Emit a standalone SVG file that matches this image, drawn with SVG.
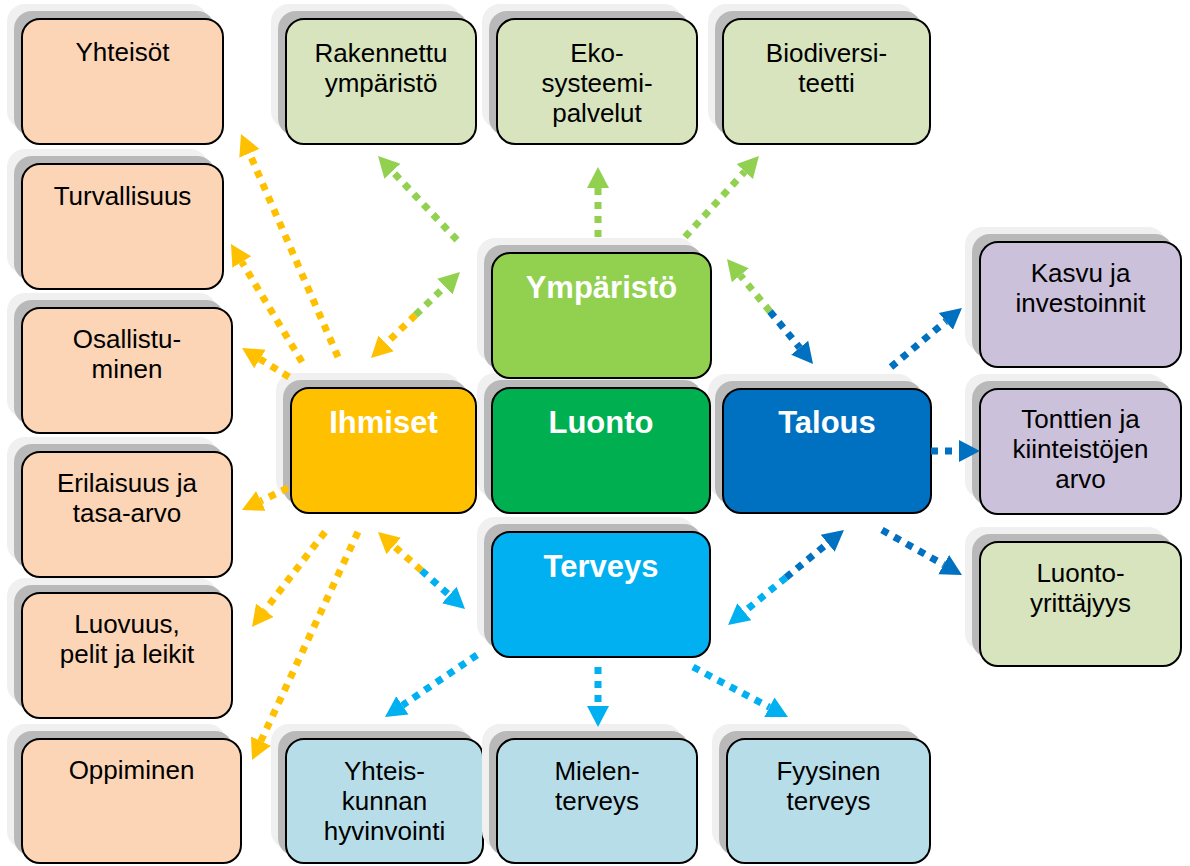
<svg xmlns="http://www.w3.org/2000/svg" width="1190" height="866" viewBox="0 0 1190 866">
  <defs>
    <style>
      .sh1 { fill: #f0f0f0; }
      .sh2 { fill: #b9b9b9; }
      .box { stroke: #000; stroke-width: 2; }
      .peach .box { fill: #fbd5b5; }
      .sage .box { fill: #d7e4bd; }
      .lilac .box { fill: #ccc1da; }
      .sky .box { fill: #b7dee8; }
      text { font-family: "Liberation Sans", Arial, sans-serif; text-anchor: middle; }
      .leaf text { font-size: 26px; fill: #000; }
      .hub text { font-size: 31px; font-weight: bold; fill: #fff; }
      .link { fill: none; stroke-width: 7; stroke-dasharray: 7 7; }
      .y { stroke: #ffc000; }
      .g { stroke: #92d050; }
      .b { stroke: #0070c0; }
      .l { stroke: #00b0f0; }
    </style>
    <marker id="hY" markerUnits="userSpaceOnUse" markerWidth="22" markerHeight="24" viewBox="0 0 22 24" refX="0" refY="12" orient="auto">
      <path d="M0,1 L21,12 L0,23 Z" fill="#ffc000"/>
    </marker>
    <marker id="hG" markerUnits="userSpaceOnUse" markerWidth="22" markerHeight="24" viewBox="0 0 22 24" refX="0" refY="12" orient="auto">
      <path d="M0,1 L21,12 L0,23 Z" fill="#92d050"/>
    </marker>
    <marker id="hB" markerUnits="userSpaceOnUse" markerWidth="22" markerHeight="24" viewBox="0 0 22 24" refX="0" refY="12" orient="auto">
      <path d="M0,1 L21,12 L0,23 Z" fill="#0070c0"/>
    </marker>
    <marker id="hL" markerUnits="userSpaceOnUse" markerWidth="22" markerHeight="24" viewBox="0 0 22 24" refX="0" refY="12" orient="auto">
      <path d="M0,1 L21,12 L0,23 Z" fill="#00b0f0"/>
    </marker>
  </defs>

  <rect width="1190" height="866" fill="#fff"/>

  <!-- left column: people themes -->
  <g id="yhteisot" class="leaf peach">
    <rect class="sh1" x="7" y="4" width="201" height="125" rx="18"/>
    <rect class="sh2" x="14" y="11" width="201" height="125" rx="18"/>
    <rect class="box" x="22" y="19" width="201" height="125" rx="18"/>
    <text x="122.5" y="61">Yhteisöt</text>
  </g>
  <g id="turvallisuus" class="leaf peach">
    <rect class="sh1" x="7" y="149" width="201" height="125" rx="18"/>
    <rect class="sh2" x="14" y="156" width="201" height="125" rx="18"/>
    <rect class="box" x="22" y="164" width="201" height="125" rx="18"/>
    <text x="122.5" y="205">Turvallisuus</text>
  </g>
  <g id="osallistuminen" class="leaf peach">
    <rect class="sh1" x="7" y="293" width="210" height="125" rx="18"/>
    <rect class="sh2" x="14" y="300" width="210" height="125" rx="18"/>
    <rect class="box" x="22" y="308" width="210" height="125" rx="18"/>
    <text x="127" y="348">Osallistu-</text>
    <text x="127" y="378">minen</text>
  </g>
  <g id="erilaisuus" class="leaf peach">
    <rect class="sh1" x="7" y="437" width="210" height="125" rx="18"/>
    <rect class="sh2" x="14" y="444" width="210" height="125" rx="18"/>
    <rect class="box" x="22" y="452" width="210" height="125" rx="18"/>
    <text x="127" y="492">Erilaisuus ja</text>
    <text x="127" y="522">tasa-arvo</text>
  </g>
  <g id="luovuus" class="leaf peach">
    <rect class="sh1" x="7" y="578" width="210" height="125" rx="18"/>
    <rect class="sh2" x="14" y="585" width="210" height="125" rx="18"/>
    <rect class="box" x="22" y="593" width="210" height="125" rx="18"/>
    <text x="127" y="633">Luovuus,</text>
    <text x="127" y="663">pelit ja leikit</text>
  </g>
  <g id="oppiminen" class="leaf peach">
    <rect class="sh1" x="7" y="724" width="219" height="125" rx="18"/>
    <rect class="sh2" x="14" y="731" width="219" height="125" rx="18"/>
    <rect class="box" x="22" y="739" width="219" height="124" rx="18"/>
    <text x="131.5" y="779">Oppiminen</text>
  </g>

  <!-- top row: environment themes -->
  <g id="rakennettu" class="leaf sage">
    <rect class="sh1" x="271" y="4" width="190" height="125" rx="18"/>
    <rect class="sh2" x="278" y="11" width="190" height="125" rx="18"/>
    <rect class="box" x="286" y="19" width="190" height="125" rx="18"/>
    <text x="381" y="62">Rakennettu</text>
    <text x="381" y="92">ympäristö</text>
  </g>
  <g id="ekosysteemi" class="leaf sage">
    <rect class="sh1" x="482" y="4" width="200" height="125" rx="18"/>
    <rect class="sh2" x="489" y="11" width="200" height="125" rx="18"/>
    <rect class="box" x="497" y="19" width="200" height="125" rx="18"/>
    <text x="597" y="62">Eko-</text>
    <text x="597" y="92">systeemi-</text>
    <text x="597" y="122">palvelut</text>
  </g>
  <g id="biodiversiteetti" class="leaf sage">
    <rect class="sh1" x="708" y="4" width="207" height="125" rx="18"/>
    <rect class="sh2" x="715" y="11" width="207" height="125" rx="18"/>
    <rect class="box" x="723" y="19" width="207" height="125" rx="18"/>
    <text x="826.5" y="62">Biodiversi-</text>
    <text x="826.5" y="92">teetti</text>
  </g>

  <!-- central hubs -->
  <g id="talous" class="hub">
    <rect class="sh1" x="708" y="374" width="208" height="124" rx="18"/>
    <rect class="sh2" x="715" y="381" width="208" height="124" rx="18"/>
    <rect class="box" x="723" y="389" width="208" height="124" rx="18" fill="#0070c0"/>
    <text x="827" y="433">Talous</text>
  </g>
  <g id="luonto" class="hub">
    <rect class="sh1" x="477" y="373" width="218" height="125" rx="18"/>
    <rect class="sh2" x="484" y="380" width="218" height="125" rx="18"/>
    <rect class="box" x="492" y="388" width="218" height="125" rx="18" fill="#00b050"/>
    <text x="601" y="433">Luonto</text>
  </g>
  <g id="ymparisto" class="hub">
    <rect class="sh1" x="477" y="238" width="219" height="125" rx="18"/>
    <rect class="sh2" x="484" y="245" width="219" height="125" rx="18"/>
    <rect class="box" x="492" y="253" width="219" height="125" rx="18" fill="#92d050"/>
    <text x="601.5" y="298">Ympäristö</text>
  </g>
  <g id="ihmiset" class="hub">
    <rect class="sh1" x="276" y="373" width="185" height="125" rx="18"/>
    <rect class="sh2" x="283" y="380" width="185" height="125" rx="18"/>
    <rect class="box" x="291" y="388" width="185" height="125" rx="18" fill="#ffc000"/>
    <text x="383.5" y="433">Ihmiset</text>
  </g>
  <g id="terveys" class="hub">
    <rect class="sh1" x="477" y="517" width="218" height="125" rx="18"/>
    <rect class="sh2" x="484" y="524" width="218" height="125" rx="18"/>
    <rect class="box" x="492" y="532" width="218" height="125" rx="18" fill="#00b0f0"/>
    <text x="601" y="577">Terveys</text>
  </g>

  <!-- right column: economy themes -->
  <g id="kasvu" class="leaf lilac">
    <rect class="sh1" x="965" y="227" width="201" height="125" rx="18"/>
    <rect class="sh2" x="972" y="234" width="201" height="125" rx="18"/>
    <rect class="box" x="980" y="242" width="201" height="125" rx="18"/>
    <text x="1080.5" y="282">Kasvu ja</text>
    <text x="1080.5" y="312">investoinnit</text>
  </g>
  <g id="tonttien" class="leaf lilac">
    <rect class="sh1" x="965" y="374" width="201" height="125" rx="18"/>
    <rect class="sh2" x="972" y="381" width="201" height="125" rx="18"/>
    <rect class="box" x="980" y="389" width="201" height="125" rx="18"/>
    <text x="1080.5" y="428">Tonttien ja</text>
    <text x="1080.5" y="458">kiinteistöjen</text>
    <text x="1080.5" y="488">arvo</text>
  </g>
  <g id="luontoyrittajyys" class="leaf sage">
    <rect class="sh1" x="965" y="527" width="201" height="124" rx="18"/>
    <rect class="sh2" x="972" y="534" width="201" height="124" rx="18"/>
    <rect class="box" x="980" y="542" width="201" height="124" rx="18"/>
    <text x="1080.5" y="582">Luonto-</text>
    <text x="1080.5" y="612">yrittäjyys</text>
  </g>

  <!-- bottom row: health themes -->
  <g id="yhteiskunnan" class="leaf sky">
    <rect class="sh1" x="271" y="724" width="197" height="125" rx="18"/>
    <rect class="sh2" x="278" y="731" width="197" height="125" rx="18"/>
    <rect class="box" x="286" y="739" width="197" height="124" rx="18"/>
    <text x="384.5" y="780">Yhteis-</text>
    <text x="384.5" y="810">kunnan</text>
    <text x="384.5" y="840">hyvinvointi</text>
  </g>
  <g id="mielenterveys" class="leaf sky">
    <rect class="sh1" x="482" y="724" width="200" height="125" rx="18"/>
    <rect class="sh2" x="489" y="731" width="200" height="125" rx="18"/>
    <rect class="box" x="497" y="739" width="200" height="124" rx="18"/>
    <text x="597" y="780">Mielen-</text>
    <text x="597" y="810">terveys</text>
  </g>
  <g id="fyysinen" class="leaf sky">
    <rect class="sh1" x="712" y="724" width="203" height="125" rx="18"/>
    <rect class="sh2" x="719" y="731" width="203" height="125" rx="18"/>
    <rect class="box" x="727" y="739" width="203" height="124" rx="18"/>
    <text x="828.5" y="780">Fyysinen</text>
    <text x="828.5" y="810">terveys</text>
  </g>

  <!-- dotted connectors -->
  <g id="connectors">
    <!-- Ihmiset -->
    <path class="link y" d="M338,357 L249.4,153.3" marker-end="url(#hY)"/>
    <path class="link y" d="M302,362 L241.8,262" marker-end="url(#hY)"/>
    <path class="link y" d="M289,377 L259.9,359" marker-end="url(#hY)"/>
    <path class="link y" d="M288,488 L260.9,500.9" marker-end="url(#hY)"/>
    <path class="link y" d="M325,532 L264.8,610.3" marker-end="url(#hY)"/>
    <path class="link y" d="M358,532 L260.9,741" marker-end="url(#hY)"/>
    <!-- Ihmiset / Ympäristö two-way -->
    <path class="link y" d="M415.5,315 L386.1,343.4" marker-end="url(#hY)"/>
    <path class="link g" d="M415.5,315 L444.9,286.6" marker-end="url(#hG)"/>
    <!-- Ihmiset / Terveys two-way -->
    <path class="link y" d="M421.5,570.5 L393.7,545.9" marker-end="url(#hY)"/>
    <path class="link l" d="M421.5,570.5 L449.3,595.1" marker-end="url(#hL)"/>
    <!-- Ympäristö -->
    <path class="link g" d="M457,240 L392.4,171.3" marker-end="url(#hG)"/>
    <path class="link g" d="M598,237 L598,188" marker-end="url(#hG)"/>
    <path class="link g" d="M685,237 L744.8,171.5" marker-end="url(#hG)"/>
    <!-- Ympäristö / Talous two-way -->
    <path class="link g" d="M770,311.5 L740.3,275.3" marker-end="url(#hG)"/>
    <path class="link b" d="M770,311.5 L799.7,347.7" marker-end="url(#hB)"/>
    <!-- Talous -->
    <path class="link b" d="M891,367 L945.8,321.4" marker-end="url(#hB)"/>
    <path class="link b" d="M931,451 L959,451" marker-end="url(#hB)"/>
    <path class="link b" d="M882,530 L943.7,564.7" marker-end="url(#hB)"/>
    <!-- Talous / Terveys two-way -->
    <path class="link b" d="M786,577.5 L827.7,543.3" marker-end="url(#hB)"/>
    <path class="link l" d="M786,577.5 L744.3,611.7" marker-end="url(#hL)"/>
    <!-- Terveys -->
    <path class="link l" d="M477,655 L402.4,705.3" marker-end="url(#hL)"/>
    <path class="link l" d="M598,667 L598,706" marker-end="url(#hL)"/>
    <path class="link l" d="M693,667 L769.4,707.2" marker-end="url(#hL)"/>
  </g>
</svg>
